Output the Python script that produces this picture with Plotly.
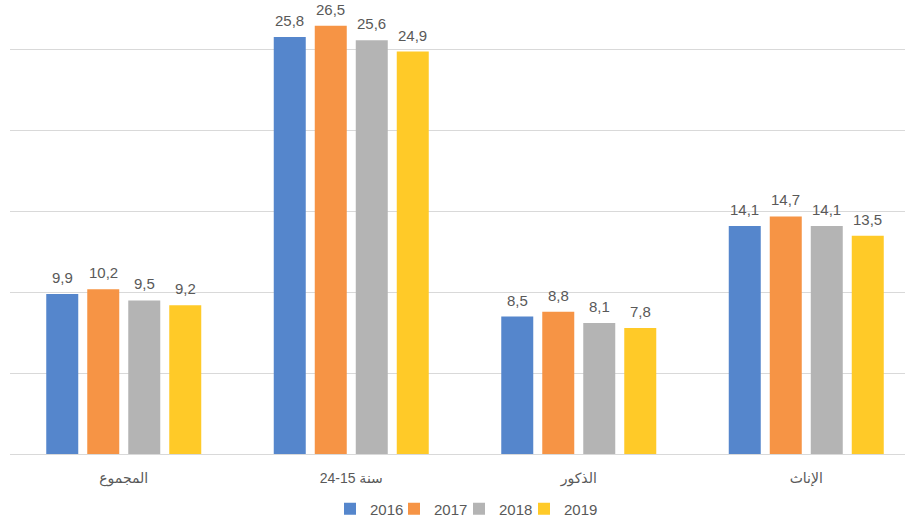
import plotly.graph_objects as go

categories = ["المجموع", "24-15 سنة", "الذكور", "الإناث"]
years = ["2016", "2017", "2018", "2019"]
values = {
    "2016": [9.9, 25.8, 8.5, 14.1],
    "2017": [10.2, 26.5, 8.8, 14.7],
    "2018": [9.5, 25.6, 8.1, 14.1],
    "2019": [9.2, 24.9, 7.8, 13.5],
}
colors = {"2016": "#5586CC", "2017": "#F69445", "2018": "#B4B4B4", "2019": "#FFCA28"}

xpos = list(range(len(categories)))
slot = 41 / 227.5
bw = 32 / 227.5
legend_x_px = [340, 404, 469, 534]

fig = go.Figure()
annotations = []
for i, yr in enumerate(years):
    off = -2 * slot + i * slot + (slot - bw) / 2
    lg = "legend" if i == 0 else f"legend{i + 1}"
    fig.add_trace(go.Bar(
        x=xpos, y=values[yr], name=yr,
        width=bw, offset=off,
        marker=dict(color=colors[yr], line=dict(width=0)),
        legend=lg,
    ))
    for xp, v in zip(xpos, values[yr]):
        annotations.append(dict(
            x=xp + off + bw / 2, y=v, xref="x", yref="y",
            text=f"{v:.1f}".replace(".", ","), showarrow=False,
            yanchor="bottom", yshift=6,
            font=dict(size=15, color="#595959"),
        ))

legend_common = dict(orientation="h", xref="container", yref="container",
                     xanchor="left", yanchor="middle", y=(517 - 509) / 517,
                     font=dict(size=15, color="#595959"), itemwidth=30,
                     bgcolor="rgba(0,0,0,0)")
layout_legends = {}
for i in range(4):
    key = "legend" if i == 0 else f"legend{i + 1}"
    layout_legends[key] = dict(legend_common, x=(legend_x_px[i] - 10) / 909)

fig.update_layout(
    width=909, height=517,
    margin=dict(l=10, r=4, t=10, b=63),
    paper_bgcolor="white", plot_bgcolor="white",
    barmode="overlay",
    font=dict(family="Liberation Sans, DejaVu Sans, sans-serif", color="#595959"),
    showlegend=True,
    annotations=annotations,
    xaxis=dict(tickvals=xpos, ticktext=categories, range=[-0.5, 3.434],
               showline=True, linecolor="#D9D9D9", linewidth=1,
               showgrid=False, ticks="outside", ticklen=11, tickcolor="rgba(0,0,0,0)",
               tickfont=dict(size=14, color="#595959"), fixedrange=True, automargin=False),
    yaxis=dict(range=[0, 27.47], tickvals=[5, 10, 15, 20, 25], showticklabels=False,
               showgrid=True, gridcolor="#D9D9D9", gridwidth=1, zeroline=False,
               automargin=False, fixedrange=True),
)
fig.update_layout(**layout_legends)

fig.write_html("out.html", config={"displayModeBar": False},
               post_script="document.body.style.margin='0';")
